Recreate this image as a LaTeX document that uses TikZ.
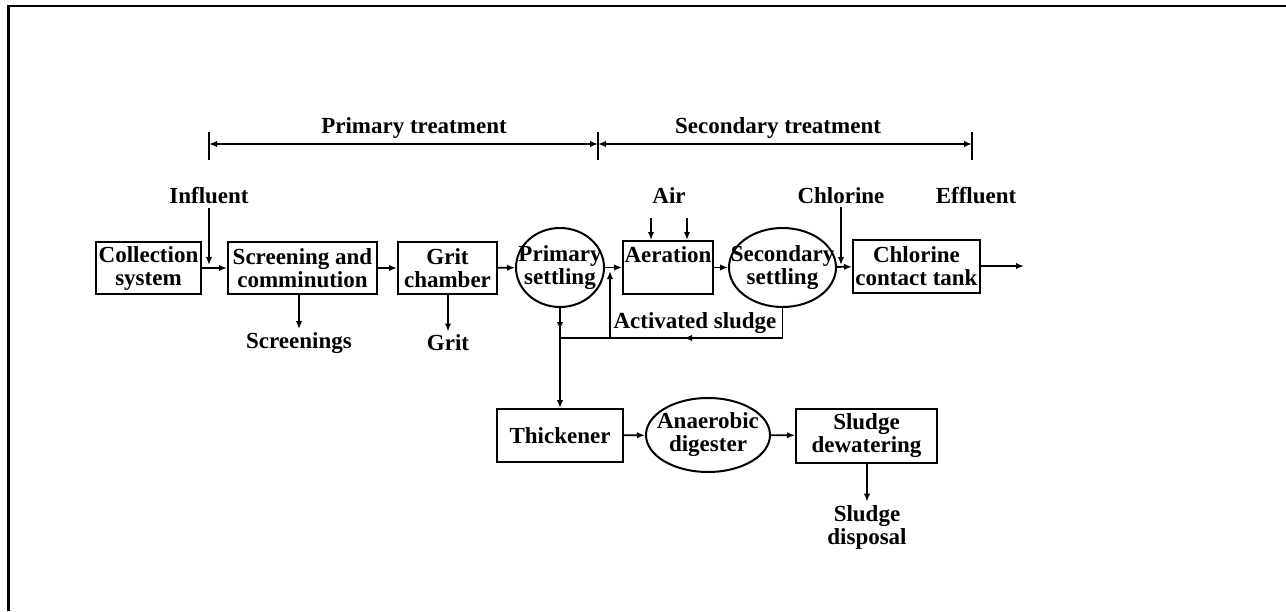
\documentclass[tikz,border=0pt]{standalone}
\usepackage{fontspec}
\setmainfont{Liberation Serif}
\usetikzlibrary{arrows.meta,shapes.geometric}

\begin{document}
\begin{tikzpicture}[x=0.5pt,y=-0.5pt,
font=\bfseries\fontsize{11.5}{11.5}\selectfont,
unit-box/.style={draw, line width=1pt, inner sep=1pt, align=center},
unit-oval/.style={draw, ellipse, line width=1pt, inner sep=0pt},
tag/.style={inner sep=1.5pt, align=center},
flow/.style={line width=0.9pt, -{Latex[length=4pt,width=3.2pt]}},
pipe/.style={line width=0.9pt},
span/.style={line width=0.9pt, {Latex[length=4pt,width=3.2pt]}-{Latex[length=4pt,width=3.2pt]}}]
%\draw[help lines] (0,0) grid (1286,611);
\useasboundingbox (0,0) rectangle (1286,611);
\draw[line width=1.3pt] (8.5,611) -- (8.5,6) -- (1286,6);

% treatment stages
\coordinate (stage-a) at (209,144);
\coordinate (stage-b) at (598,144);
\coordinate (stage-c) at (972,144);
\draw[pipe] (stage-a) ++(0,-12) -- ++(0,28);
\draw[pipe] (stage-b) ++(0,-12) -- ++(0,28);
\draw[pipe] (stage-c) ++(0,-12) -- ++(0,28);
\draw[span] (stage-a) -- (stage-b);
\draw[span] (stage-b) -- (stage-c);
\node[tag] (primary-lbl) at (414,128) {Primary treatment};
\node[tag] (secondary-lbl) at (778,128) {Secondary treatment};

% main line
\node[unit-box, minimum width=52.5pt, minimum height=26pt] (collect) at (148.5,268) {Collection\\system};
\node[unit-box, minimum width=74.5pt, minimum height=26pt] (screen) at (302.5,268) {Screening and\\comminution};
\node[unit-box, minimum width=49.5pt, minimum height=26pt] (grit) at (447.5,268) {Grit\\chamber};
\node[unit-oval, minimum width=44pt, minimum height=39.5pt,
  label={[tag]center:Primary\\settling}] (prim) at (560,267.5) {};
\node[unit-box, minimum width=45pt, minimum height=26.5pt,
  label={[tag, anchor=north, yshift=-1.5pt]north:Aeration}] (aer) at (668,267.5) {};
\node[unit-oval, minimum width=53.5pt, minimum height=39.5pt,
  label={[tag]center:Secondary\\settling}] (sec) at (782.5,267.5) {};
\node[unit-box, minimum width=63.5pt, minimum height=26.5pt] (ctank) at (916.5,266) {Chlorine\\contact tank};

% sludge line
\node[unit-box, minimum width=63pt, minimum height=26.5pt] (thick) at (560,435.5) {Thickener};
\node[unit-oval, minimum width=62pt, minimum height=37pt,
  label={[tag]center:Anaerobic\\digester}] (anaer) at (708,435) {};
\node[unit-box, minimum width=70.5pt, minimum height=27pt] (dewat) at (866.5,435.5) {Sludge\\dewatering};

% inputs and outputs
\node[tag] (influent) at (209,196) {Influent};
\node[tag] (air) at (669,196) {Air};
\node[tag] (chlorine) at (841,196) {Chlorine};
\node[tag] (effluent) at (976,196) {Effluent};
\node[tag] (screenings) at (299,343) {Screenings};
\node[tag] (grit-out) at (448,343) {Grit};
\node[tag] (act-sludge) at (695,323) {Activated sludge};
\node[tag] (disposal) at (867,527) {Sludge\\disposal};

\coordinate (in-join) at (209,265);
\coordinate (cl-join) at (841,265);
\coordinate (out) at (1024,266);
\coordinate (air-a) at (651,218);
\coordinate (air-b) at (687,218);
\coordinate (junc) at (560,338);
\coordinate (ret) at (610,338);
\coordinate (ret-top) at (610,271);

\draw[flow] (collect) -- (screen);
\draw[flow] (screen) -- (grit);
\draw[flow] (grit) -- (prim);
\draw[flow] (prim) -- (aer);
\draw[flow] (aer) -- (sec);
\draw[flow] (sec) -- (ctank);
\draw[flow] (ctank) -- (out);
\draw[flow] (influent) -- (in-join);
\draw[flow] (chlorine) -- (cl-join);
\draw[flow] (air-a) -- (air-a |- aer.north);
\draw[flow] (air-b) -- (air-b |- aer.north);
\draw[flow] (screenings |- screen.south) -- (screenings);
\draw[flow] (grit-out |- grit.south) -- (grit-out);

% sludge return
\draw[pipe] (sec.south) |- (junc);
\draw[flow] (sec.south |- junc) -- (684,338);
\draw[flow] (ret) -- (ret-top);
\draw[pipe] (prim.south) -- (junc);
\draw[flow] (prim.south) -- (560,330);
\draw[flow] (junc) -- (thick);
\draw[flow] (thick) -- (anaer);
\draw[flow] (anaer) -- (dewat);
\draw[flow] (dewat.south -| disposal) -- (disposal);
\end{tikzpicture}
\end{document}
